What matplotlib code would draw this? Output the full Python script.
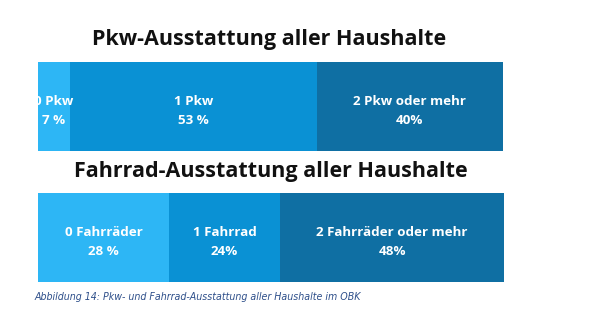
import matplotlib
matplotlib.use("Agg")
import matplotlib.pyplot as plt

# Data
car_labels = ["0 Pkw", "1 Pkw", "2 Pkw oder mehr"]
car_pct_text = ["7 %", "53 %", "40%"]
car_values = [7, 53, 40]

bike_labels = ["0 Fahrräder", "1 Fahrrad", "2 Fahrräder oder mehr"]
bike_pct_text = ["28 %", "24%", "48%"]
bike_values = [28, 24, 48]

title_car = "Pkw-Ausstattung aller Haushalte"
title_bike = "Fahrrad-Ausstattung aller Haushalte"
caption = "Abbildung 14: Pkw- und Fahrrad-Ausstattung aller Haushalte im OBK"

colors = ["#2db6f5", "#0a91d4", "#0f6fa3"]

W, H = 605, 324
fig = plt.figure(figsize=(W / 100, H / 100), dpi=100)
fig.patch.set_facecolor("white")


def px_axes(x0, y0, x1, y1):
    return fig.add_axes([x0 / W, 1 - y1 / H, (x1 - x0) / W, (y1 - y0) / H])


def stacked(ax, values, labels, pcts, fs):
    left = 0
    for v, lab, p, c in zip(values, labels, pcts, colors):
        ax.barh(0, v, left=left, height=1.0, color=c, edgecolor="none")
        ax.text(left + v / 2, 0.05, lab + "\n" + p, ha="center", va="center",
                color="white", fontsize=fs, fontweight="bold",
                family="Open Sans", linespacing=1.6)
        left += v
    ax.set_xlim(0, sum(values))
    ax.set_ylim(0.5, -0.5)
    ax.axis("off")


ax1 = px_axes(37.7, 62, 502.7, 150.7)
stacked(ax1, car_values, car_labels, car_pct_text, 9.6)
ax2 = px_axes(38.3, 193.3, 504, 281.7)
stacked(ax2, bike_values, bike_labels, bike_pct_text, 9.6)

fig.text(269 / W, 1 - 39 / H, title_car, ha="center", va="center",
         fontsize=15.5, fontweight="bold", family="Open Sans", color="#111111")
fig.text(270.5 / W, 1 - 171 / H, title_bike, ha="center", va="center",
         fontsize=15.5, fontweight="bold", family="Open Sans", color="#111111")
fig.text(35 / W, 1 - 296.5 / H, caption, ha="left", va="center",
         fontsize=6.85, style="italic", family="DejaVu Sans", color="#2e4f8a")

fig.savefig("out.png", dpi=100)
